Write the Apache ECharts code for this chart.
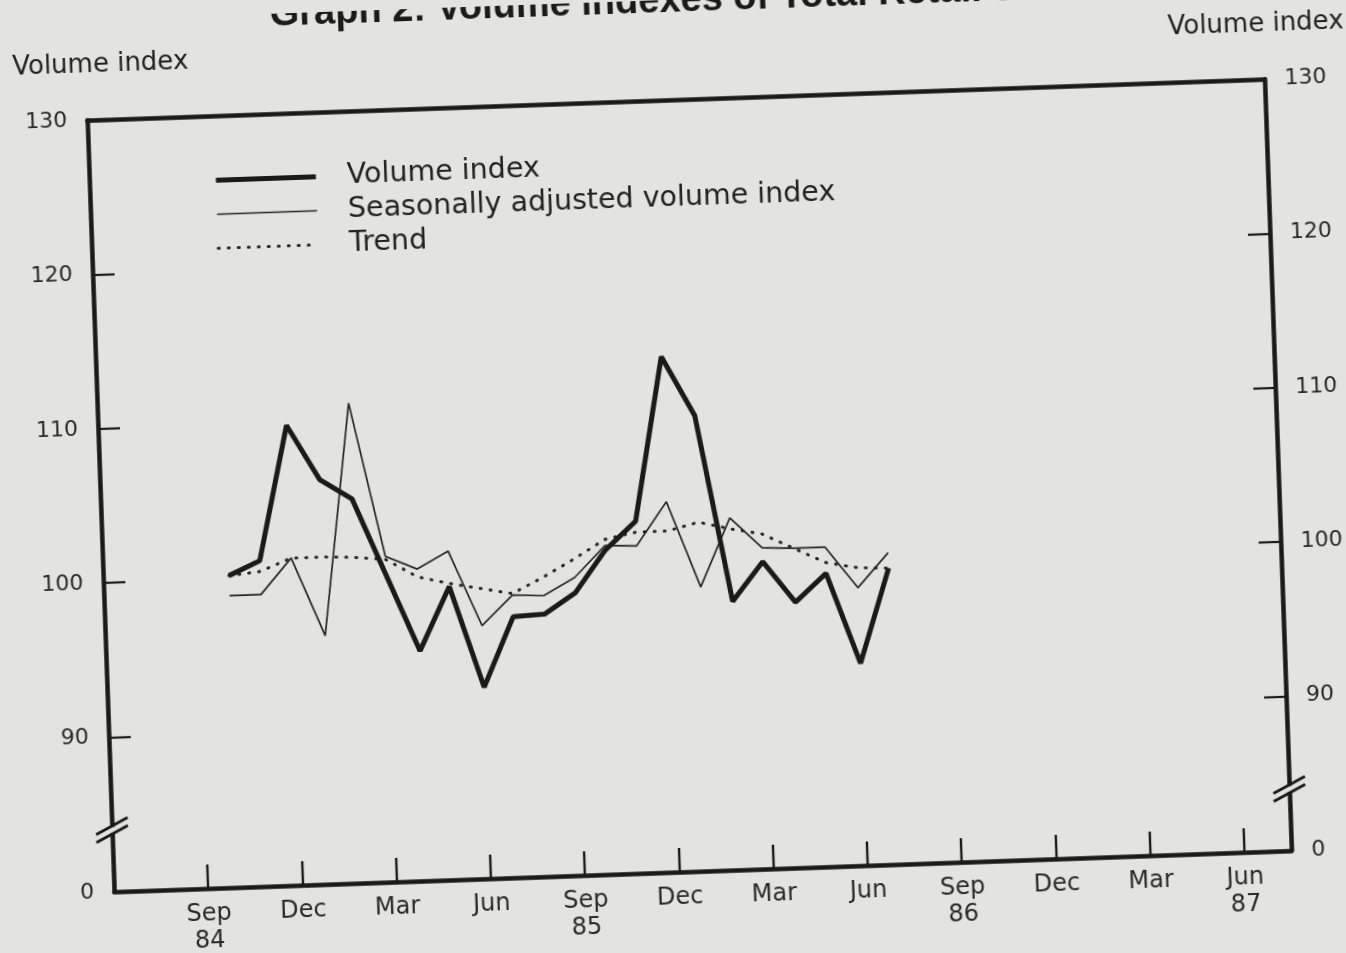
<!DOCTYPE html>
<html>
<head>
<meta charset="utf-8">
<title>Graph 2: Volume indexes of Total Retail Sales</title>
<script src="https://cdn.jsdelivr.net/npm/echarts@6.0.0/dist/echarts.min.js"></script>
<style>
  html, body { margin: 0; padding: 0; background: #e3e3df; overflow: hidden; }
  /* the printed page sits slightly askew on the scan; a little wider than the window so the right axis name fits */
  #chart { width: 1390px; height: 953px; transform: rotate(-2deg); transform-origin: 673px 476px; }
</style>
</head>
<body>
<div id="chart"></div>
<script>
// months plotted (Oct 84 .. Jul 86)
const months = ['Oct 84', 'Nov 84', 'Dec 84', 'Jan 85', 'Feb 85', 'Mar 85', 'Apr 85', 'May 85',
  'Jun 85', 'Jul 85', 'Aug 85', 'Sep 85', 'Oct 85', 'Nov 85', 'Dec 85', 'Jan 86', 'Feb 86',
  'Mar 86', 'Apr 86', 'May 86', 'Jun 86', 'Jul 86']
const volumeIndex = [100.2, 101.1, 109.8, 106.2, 104.9, 99.9, 94.9, 99.0, 92.4, 96.9, 97.0,
  98.3, 101.0, 102.8, 113.4, 109.5, 97.4, 99.9, 97.2, 99.0, 93.1, 99.2]
const seasonallyAdjusted = [98.9, 98.9, 101.2, 96.1, 111.1, 101.1, 100.2, 101.3, 96.4, 98.3, 98.2,
  99.3, 101.3, 101.2, 104.0, 98.4, 102.8, 100.8, 100.7, 100.7, 98.0, 100.2]
const trend = [100.2, 100.4, 101.2, 101.2, 101.1, 100.9, 99.7, 99.2, 98.8, 98.4, 99.4,
  100.5, 101.7, 102.1, 102.1, 102.6, 102.1, 101.7, 100.7, 99.7, 99.3, 99.2]

// x axis counts months from Jun 84; Oct 84 is month 4
const firstMonth = 4
const xTickLabels = ['Sep\n84', 'Dec', 'Mar', 'Jun', 'Sep\n85', 'Dec', 'Mar', 'Jun',
  'Sep\n86', 'Dec', 'Mar', 'Jun\n87']
// y axis is broken: the bottom tick stands for 0
const yTickValues = [80, 90, 100, 110, 120, 130]
const yTickLabels = ['0', '90', '100', '110', '120', '130']
const breakValue = 84

const ink = '#1a1a1a'
const paper = '#e3e3df'
const font = 'DejaVu Sans'

const toPairs = arr => arr.map((v, i) => [firstMonth + i, v])

const chart = echarts.init(document.getElementById('chart'))

const yLabel = v => {
  const i = yTickValues.indexOf(v)
  return i >= 0 ? yTickLabels[i] : ''
}

const yAxisBase = {
  type: 'value',
  min: 80,
  max: 130,
  interval: 10,
  nameLocation: 'end',
  nameGap: 42,
  axisLine: { show: true, onZero: false, lineStyle: { color: ink, width: 4.5 } },
  axisTick: { show: true, inside: true, length: 22, lineStyle: { color: ink, width: 2.2 } },
  axisLabel: { formatter: yLabel, fontFamily: font, fontSize: 22, color: '#2a2a2a', margin: 20 },
  splitLine: { show: false }
}

const lineVolume = { color: ink, width: 5 }
const lineAdjusted = { color: '#262626', width: 1.7 }
const lineTrend = { color: '#262626', width: 3, type: [1, 9], cap: 'round' }

const option = {
  backgroundColor: paper,
  animation: false,
  title: {
    text: 'Graph 2: Volume indexes of Total Retail Sales',
    left: 281,
    top: -22,
    textStyle: { fontFamily: 'Liberation Sans', fontWeight: 'bold', fontSize: 38, color: ink }
  },
  legend: {
    orient: 'vertical',
    left: 219,
    top: 145,
    itemWidth: 100,
    itemHeight: 14,
    itemGap: 5,
    itemStyle: { opacity: 0 },
    textStyle: { fontFamily: font, fontSize: 28.5, color: '#222', padding: [0, 0, 0, 26] },
    data: [
      { name: 'Volume index', lineStyle: lineVolume },
      { name: 'Seasonally adjusted volume index', lineStyle: lineAdjusted },
      { name: 'Trend', lineStyle: lineTrend }
    ]
  },
  grid: { left: 100, right: 112, top: 100, bottom: 81, outerBoundsMode: 'none' },
  xAxis: [
    {
      type: 'value',
      min: 0,
      max: 37.5,
      interval: 3,
      position: 'bottom',
      axisLine: { show: true, onZero: false, lineStyle: { color: ink, width: 4.5 } },
      axisTick: { show: true, inside: true, length: 24, lineStyle: { color: ink, width: 2.4 } },
      axisLabel: {
        formatter: v => (v > 0 && v % 3 === 0 ? xTickLabels[v / 3 - 1] : ''),
        fontFamily: font,
        fontSize: 24,
        lineHeight: 27,
        color: '#2a2a2a',
        margin: 12
      },
      splitLine: { show: false }
    },
    {
      type: 'value',
      min: 0,
      max: 37.5,
      position: 'top',
      axisLine: { show: true, onZero: false, lineStyle: { color: ink, width: 4.5 } },
      axisTick: { show: false },
      axisLabel: { show: false },
      splitLine: { show: false }
    }
  ],
  yAxis: [
    Object.assign({}, yAxisBase, {
      position: 'left',
      name: 'Volume index',
      nameTextStyle: { fontFamily: font, fontSize: 26, color: '#222', padding: [0, 0, 0, 30] }
    }),
    Object.assign({}, yAxisBase, {
      position: 'right',
      name: 'Volume index',
      nameTextStyle: { fontFamily: font, fontSize: 26, color: '#222', padding: [0, 14, 0, 0] }
    })
  ],
  series: [
    {
      name: 'Volume index',
      type: 'line',
      data: toPairs(volumeIndex),
      symbol: 'none',
      z: 4,
      itemStyle: { color: ink },
      lineStyle: lineVolume
    },
    {
      name: 'Seasonally adjusted volume index',
      type: 'line',
      data: toPairs(seasonallyAdjusted),
      symbol: 'none',
      z: 3,
      itemStyle: { color: ink },
      lineStyle: lineAdjusted
    },
    {
      name: 'Trend',
      type: 'line',
      data: toPairs(trend),
      symbol: 'none',
      z: 2,
      itemStyle: { color: ink },
      lineStyle: lineTrend
    }
  ]
}

chart.setOption(option)

// "//" break marks on both vertical axes
const breakMark = xVal => {
  const [x, y] = chart.convertToPixel({ xAxisIndex: 0, yAxisIndex: 0 }, [xVal, breakValue])
  const seg = dy => ({
    type: 'line',
    shape: { x1: x - 16, y1: y + 8 + dy, x2: x + 16, y2: y - 8 + dy },
    style: { stroke: ink, lineWidth: 3 },
    z: 100
  })
  return [
    { type: 'rect', shape: { x: x - 5, y: y - 3, width: 10, height: 6 }, style: { fill: paper }, z: 99 },
    seg(-4),
    seg(4)
  ]
}

chart.setOption({ graphic: breakMark(0).concat(breakMark(37.5)) })
</script>
</body>
</html>
